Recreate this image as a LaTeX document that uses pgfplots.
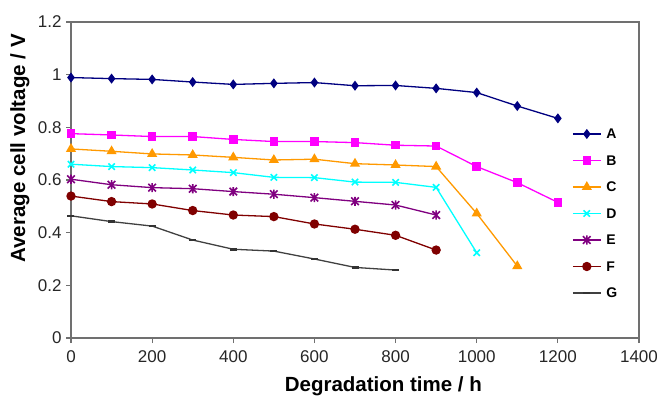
\documentclass[border=0pt]{standalone}
\usepackage{fontspec}
\setmainfont{Liberation Sans}
\usepackage{pgfplots}
\pgfplotsset{compat=1.18}
\definecolor{cA}{HTML}{000080}
\definecolor{cB}{HTML}{FF00FF}
\definecolor{cC}{HTML}{FF9900}
\definecolor{cD}{HTML}{00FFFF}
\definecolor{cE}{HTML}{800080}
\definecolor{cF}{HTML}{800000}
\definecolor{cG}{HTML}{404040}
\definecolor{axisgray}{HTML}{707070}
\pgfdeclareplotmark{xstar}{%
  \pgfpathmoveto{\pgfqpoint{-\pgfplotmarksize}{-\pgfplotmarksize}}%
  \pgfpathlineto{\pgfqpoint{\pgfplotmarksize}{\pgfplotmarksize}}%
  \pgfpathmoveto{\pgfqpoint{-\pgfplotmarksize}{\pgfplotmarksize}}%
  \pgfpathlineto{\pgfqpoint{\pgfplotmarksize}{-\pgfplotmarksize}}%
  \pgfpathmoveto{\pgfqpoint{0pt}{-1.2\pgfplotmarksize}}%
  \pgfpathlineto{\pgfqpoint{0pt}{1.2\pgfplotmarksize}}%
  \pgfusepathqstroke}
\begin{document}
\begin{tikzpicture}
\path[use as bounding box] (0,0) rectangle (657pt,397pt);
\begin{axis}[
  at={(71pt,59pt)}, anchor=south west,
  scale only axis, width=568pt, height=316pt,
  xmin=0, xmax=1400, ymin=0, ymax=1.2,
  xtick={0,200,...,1400}, ytick={0,0.2,...,1.2},
  tick align=outside, xtick pos=left, ytick pos=left,
  major tick length=5pt,
  axis line style={draw=axisgray, line width=1.3pt},
  tick style={draw=axisgray, line width=1.2pt},
  /pgf/number format/assume math mode=true,
  /pgf/number format/1000 sep={},
  ticklabel style={font=\fontsize{17}{19}\selectfont, text=black!85},
  xticklabel style={yshift=-4pt},
  yticklabel style={xshift=-1pt},
  xlabel={\textbf{Degradation time / h}},
  ylabel={\textbf{Average cell voltage / V}},
  label style={font=\fontsize{20.5}{23}\selectfont},
  xlabel style={at={(axis description cs:0.55,-0.152)}, anchor=center},
  ylabel style={at={(axis description cs:-0.09,0.6)}, anchor=center, rotate=0},
  every axis plot/.append style={line width=1.3pt},
  legend cell align=left,
  legend style={draw=none, fill=none, at={(axis description cs:0.882,0.394)}, anchor=west,
    inner sep=0pt, row sep=10.5pt, column sep=2pt,
    font=\fontsize{14}{16}\selectfont\bfseries,
    nodes={inner sep=3pt, text height=10pt, text depth=0pt}},
  legend image code/.code={\draw[mark repeat=2, mark phase=2, #1] plot coordinates {(0pt,0pt) (14pt,0pt) (28pt,0pt)};},
]
\addplot[color=cA, mark=diamond*, mark size=4pt] coordinates {
(0,0.989) (100,0.985) (200,0.982) (300,0.972) (400,0.963) (500,0.967) (600,0.970)
(700,0.958) (800,0.959) (900,0.948) (1000,0.932) (1100,0.881) (1200,0.834)};
\addlegendentry{A}
\addplot[color=cB, mark=square*, mark size=3.6pt] coordinates {
(0,0.776) (100,0.771) (200,0.765) (300,0.765) (400,0.754) (500,0.746) (600,0.746)
(700,0.742) (800,0.732) (900,0.729) (1000,0.651) (1100,0.590) (1200,0.515)};
\addlegendentry{B}
\addplot[color=cC, mark=triangle*, mark size=4.6pt] coordinates {
(0,0.718) (100,0.709) (200,0.699) (300,0.695) (400,0.686) (500,0.676) (600,0.679)
(700,0.662) (800,0.657) (900,0.651) (1000,0.473) (1100,0.273)};
\addlegendentry{C}
\addplot[color=cD, mark=x, mark size=4.5pt, mark options={line width=1.6pt}] coordinates {
(0,0.660) (100,0.651) (200,0.647) (300,0.638) (400,0.628) (500,0.610) (600,0.609)
(700,0.592) (800,0.591) (900,0.572) (1000,0.324)};
\addlegendentry{D}
\addplot[color=cE, mark=xstar, mark size=3.8pt, mark options={line width=1.6pt}] coordinates {
(0,0.603) (100,0.582) (200,0.571) (300,0.567) (400,0.556) (500,0.546) (600,0.533)
(700,0.519) (800,0.505) (900,0.467)};
\addlegendentry{E}
\addplot[color=cF, mark=*, mark size=4pt] coordinates {
(0,0.539) (100,0.518) (200,0.509) (300,0.484) (400,0.467) (500,0.461) (600,0.433)
(700,0.413) (800,0.390) (900,0.334)};
\addlegendentry{F}
\addplot[color=cG, mark=-, mark size=3.5pt, mark options={line width=2.6pt, color=black!80}] coordinates {
(0,0.464) (100,0.442) (200,0.425) (300,0.372) (400,0.337) (500,0.330) (600,0.300)
(700,0.268) (800,0.258)};
\addlegendentry{G}
\end{axis}
\end{tikzpicture}
\end{document}
